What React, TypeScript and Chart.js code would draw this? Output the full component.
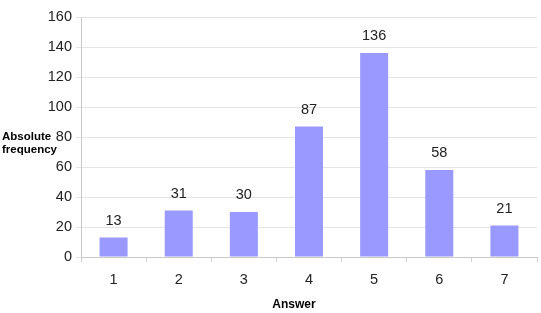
import React, { useEffect, useRef } from "react";
import { Chart, registerables } from "chart.js";

Chart.register(...registerables);

const categories = ["1", "2", "3", "4", "5", "6", "7"];
const frequencies = [13, 31, 30, 87, 136, 58, 21];
const yTitleLines = ["Absolute", "frequency"];
const xTitle = "Answer";

const FONT = "'Liberation Sans', Arial, sans-serif";

const labelsPlugin = {
  id: "customLabels",
  afterDatasetsDraw(chart: any) {
    const ctx = chart.ctx;
    const meta = chart.getDatasetMeta(0);
    ctx.save();
    ctx.font = `14.5px ${FONT}`;
    ctx.fillStyle = "#222";
    ctx.textAlign = "center";
    ctx.textBaseline = "middle";
    meta.data.forEach((bar: any, i: number) => {
      ctx.fillText(String(frequencies[i]), bar.x, bar.y - 17);
    });
    ctx.restore();
  },
  afterDraw(chart: any) {
    const ctx = chart.ctx;
    ctx.save();
    ctx.font = `bold 11.5px ${FONT}`;
    ctx.fillStyle = "#000";
    ctx.textBaseline = "middle";
    ctx.textAlign = "left";
    ctx.fillText(yTitleLines[0], 2, 137);
    ctx.fillText(yTitleLines[1], 2, 150);
    ctx.font = `bold 12px ${FONT}`;
    ctx.textAlign = "center";
    ctx.fillText(xTitle, 294, 305);
    ctx.restore();
  },
};

export default function App() {
  const ref = useRef<HTMLCanvasElement>(null);
  useEffect(() => {
    if (!ref.current) return;
    const chart = new Chart(ref.current, {
      type: "bar",
      data: {
        labels: categories,
        datasets: [
          {
            data: frequencies,
            backgroundColor: "#9999ff",
            borderWidth: 0,
            categoryPercentage: 1,
            barPercentage: 0.43,
          },
        ],
      },
      options: {
        animation: false,
        responsive: false,
        maintainAspectRatio: false,
        layout: { padding: { top: 17, right: 4, left: 0, bottom: 0 } },
        plugins: { legend: { display: false }, tooltip: { enabled: false } },
        scales: {
          x: {
            offset: true,
            grid: {
              offset: true,
              drawOnChartArea: false,
              drawTicks: true,
              tickLength: 5,
              color: "#d0d0d0",
            },
            border: { color: "#c8c8c8" },
            ticks: {
              font: { family: FONT, size: 14.5 },
              color: "#222",
              padding: 9,
              maxRotation: 0,
            },
            afterFit: (s: any) => {
              s.height = 56;
            },
          },
          y: {
            min: 0,
            max: 160,
            ticks: {
              stepSize: 20,
              font: { family: FONT, size: 14.5 },
              color: "#222",
              padding: 4,
            },
            grid: { color: "#e4e4e4", tickLength: 5 },
            border: { color: "#c8c8c8" },
            afterFit: (s: any) => {
              s.width = 81;
            },
          },
        },
      },
      plugins: [labelsPlugin],
    });
    return () => chart.destroy();
  }, []);
  return (
    <div style={{ position: "absolute", left: 0, top: 0, width: 541, height: 313, background: "#fff" }}>
      <canvas ref={ref} width={541} height={313} />
    </div>
  );
}
